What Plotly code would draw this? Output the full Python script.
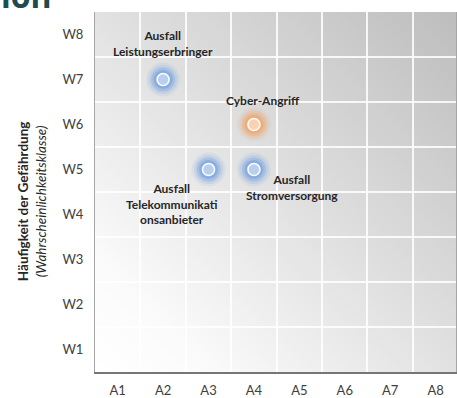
import base64
import plotly.graph_objects as go

# ---- data ----
x_labels = ["A1", "A2", "A3", "A4", "A5", "A6", "A7", "A8"]
y_labels = ["W1", "W2", "W3", "W4", "W5", "W6", "W7", "W8"]
risk_names = ["Ausfall<br>Leistungserbringer", "Cyber-Angriff",
              "Ausfall<br>Telekommunikati<br>onsanbieter", "Ausfall<br>Stromversorgung"]
risk_impact = ["A2", "A4", "A3", "A4"]
risk_freq = ["W7", "W6", "W5", "W5"]
risk_group = ["blue", "orange", "blue", "blue"]

# ---- styles ----
label_shift = [(0, 36), (9, 24), (-37, -34), (38, -18)]
glow = {"blue": ("#6f9fe0", "#b9cfee"), "orange": ("#f0a160", "#fad2b2")}

W, H = 457, 398
ML, MT, MB = 95, 12, 20
plot_w = W - ML
plot_h = H - MT - MB

xs = [x_labels.index(v) + 1 for v in risk_impact]
ys = [y_labels.index(v) + 1 for v in risk_freq]

fig = go.Figure()
for i in range(len(xs)):
    outer, inner = glow[risk_group[i]]
    for size, op in [(34, 0.10), (29, 0.18), (24, 0.33), (19, 0.55)]:
        fig.add_trace(go.Scatter(x=[xs[i]], y=[ys[i]], mode="markers",
                                 marker=dict(size=size, color=outer, opacity=op, line=dict(width=0)),
                                 hoverinfo="skip", showlegend=False))
    fig.add_trace(go.Scatter(x=[xs[i]], y=[ys[i]], mode="markers",
                             marker=dict(size=12, color=inner, line=dict(width=1.6, color="rgba(255,255,255,0.95)")),
                             showlegend=False, name=risk_names[i].replace("<br>", " ")))
    fig.add_annotation(x=xs[i], y=ys[i], text="<b>" + risk_names[i] + "</b>", showarrow=False,
                       xshift=label_shift[i][0], yshift=label_shift[i][1],
                       font=dict(family="Lato", size=12, color="#262626"))

svg = ('<svg xmlns="http://www.w3.org/2000/svg" width="100" height="100" viewBox="0 0 100 100" '
       'preserveAspectRatio="none"><defs><linearGradient id="g" x1="0" y1="1" x2="1" y2="0">'
       '<stop offset="0" stop-color="#ffffff"/><stop offset="0.15" stop-color="#fbfbfb"/>'
       '<stop offset="1" stop-color="#bdbdbd"/>'
       '</linearGradient></defs><rect width="100" height="100" fill="url(#g)"/></svg>')
src = "data:image/svg+xml;base64," + base64.b64encode(svg.encode()).decode()
fig.add_layout_image(source=src, xref="paper", yref="paper", x=0, y=1, sizex=1, sizey=1,
                     sizing="stretch", xanchor="left", yanchor="top", layer="below")

grid = dict(showgrid=True, gridcolor="rgba(255,255,255,0.85)", gridwidth=1.5)
fig.update_xaxes(range=[0.5, 8.45], tickvals=list(range(1, 9)), ticktext=x_labels,
                 showgrid=False, zeroline=False, ticks="", ticklabelstandoff=6,
                 minor=dict(tickvals=[k + 0.5 for k in range(0, 8)], **grid),
                 showline=True, linecolor="#767676", linewidth=1.5,
                 tickfont=dict(family="Lato", size=13, color="#404040"))
fig.update_yaxes(range=[0.5, 8.5], tickvals=list(range(1, 9)), ticktext=y_labels,
                 showgrid=False, zeroline=False, ticks="", ticklabelstandoff=8,
                 minor=dict(tickvals=[k + 0.5 for k in range(1, 8)], **grid),
                 showline=True, linecolor="#a6a6a6", linewidth=1, mirror=True,
                 tickfont=dict(family="Lato", size=13, color="#404040"))

fig.add_annotation(xref="paper", yref="paper", x=(32 - ML) / plot_w, y=0.475, textangle=-90,
                   text="<b>Häufigkeit der Gefährdung</b><br><i>(Wahrscheinlichkeitsklasse)</i>",
                   showarrow=False, xanchor="center", yanchor="middle",
                   font=dict(family="Lato", size=13.5, color="#262626"))
fig.add_annotation(xref="paper", yref="paper", x=(54 - ML) / plot_w, y=1 + (MT - 19) / plot_h,
                   text="<b>ion</b>", showarrow=False, xanchor="right", yanchor="bottom",
                   font=dict(family="Open Sans", size=32, color="#1e4b4f"))

fig.update_layout(width=W, height=H, margin=dict(l=ML, r=0, t=MT, b=MB, pad=0),
                  paper_bgcolor="white", plot_bgcolor="white")
fig.write_html("out.html")
